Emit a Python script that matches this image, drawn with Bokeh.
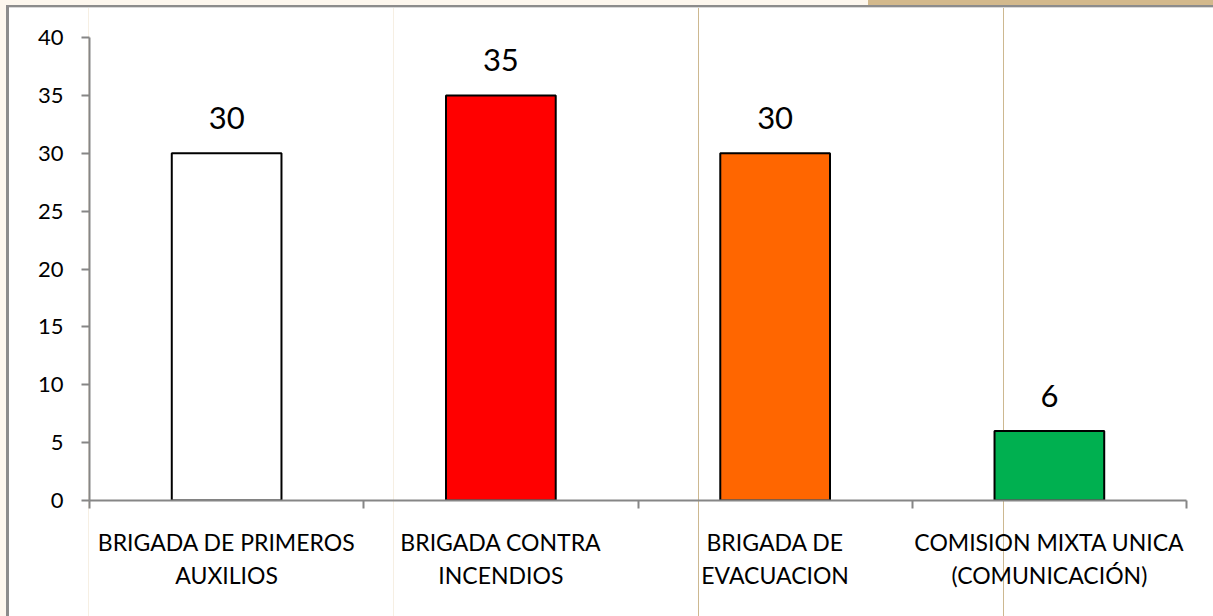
import numpy as np
from bokeh.plotting import figure
from bokeh.models import Range1d, FixedTicker, ColumnDataSource
from bokeh.embed import file_html
from bokeh.resources import INLINE
from bokeh.core.properties import value

categories = ["BRIGADA DE PRIMEROS\nAUXILIOS", "BRIGADA CONTRA\nINCENDIOS",
              "BRIGADA DE\nEVACUACION", "COMISION MIXTA UNICA\n(COMUNICACIÓN)"]
values = [30, 35, 30, 6]
colors = ["#FFFFFF", "#FF0000", "#FF6600", "#00B050"]
y_ticks = [0, 5, 10, 15, 20, 25, 30, 35, 40]

x = np.arange(len(categories)) + 0.5
src = ColumnDataSource(dict(x=x, top=values, color=colors,
                            label=[str(v) for v in values]))

W, H = 1213, 616
p = figure(width=W, height=H, x_range=Range1d(0, len(categories)),
           y_range=Range1d(0, 40), output_backend="svg", toolbar_location=None,
           min_border_left=89, min_border_right=27, min_border_top=37,
           min_border_bottom=116)

# decorative sheet frame drawn as CSS background behind the transparent canvas
layers = [
    ("#8c8c8c", "6px 5px", "3px 100%"),            # left border
    ("#8c8c8c", "6px 5px", "100% 2px"),            # top border
    ("#d9d9d9", "9px 7px", "100% 1px"),            # light line under top border
    ("#d3b98c", "868px 0px", "100% 5px"),          # tan strip
    ("#fdf7ee", "0px 0px", "100% 5px"),            # cream top
    ("#fdf7ee", "0px 0px", "6px 100%"),            # cream left
    ("#f6efe3", "88px 0px", "1px 100%"),           # faint cell lines
    ("#f6efe3", "393px 0px", "1px 100%"),
    ("#cdb890", "698px 0px", "1px 100%"),
    ("#cdb890", "1003px 0px", "1px 100%"),
]
p.styles = {
    "background-color": "white",
    "background-image": ", ".join(f"linear-gradient({c}, {c})" for c, _, _ in layers),
    "background-position": ", ".join(pos for _, pos, _ in layers),
    "background-size": ", ".join(sz for _, _, sz in layers),
    "background-repeat": "no-repeat",
}
p.background_fill_color = None
p.border_fill_color = None
p.outline_line_color = None
p.xgrid.visible = False
p.ygrid.visible = False

p.vbar(x="x", top="top", width=0.4, bottom=0, fill_color="color",
       line_color="black", line_width=2, source=src)
p.text(x="x", y="top", text="label", text_align="center",
       text_baseline="alphabetic", y_offset=-35, text_font=value("Lato"),
       text_font_size="31px", text_color="black", source=src)

axis_grey = "#868686"
xa = p.xaxis[0]
xa.ticker = FixedTicker(ticks=list(x), minor_ticks=list(range(len(categories) + 1)))
xa.major_label_overrides = {float(xi): c for xi, c in zip(x, categories)}
xa.major_tick_out = 0
xa.major_tick_in = 0
xa.minor_tick_out = 8
xa.minor_tick_in = 0
xa.minor_tick_line_color = axis_grey
xa.minor_tick_line_width = 2
xa.axis_line_color = axis_grey
xa.axis_line_width = 2
xa.major_label_text_font = "Lato"
xa.major_label_text_font_size = "23px"
xa.major_label_text_color = "black"
xa.major_label_text_line_height = 1.2
xa.major_label_standoff = 19

ya = p.yaxis[0]
ya.ticker = FixedTicker(ticks=y_ticks)
ya.major_tick_out = 8
ya.major_tick_in = 0
ya.major_tick_line_color = axis_grey
ya.major_tick_line_width = 2
ya.minor_tick_line_color = None
ya.axis_line_color = axis_grey
ya.axis_line_width = 2
ya.major_label_text_font = "Lato"
ya.major_label_text_font_size = "22px"
ya.major_label_text_color = "black"
ya.major_label_standoff = 18

open("out.html", "w").write(file_html(p, INLINE))
